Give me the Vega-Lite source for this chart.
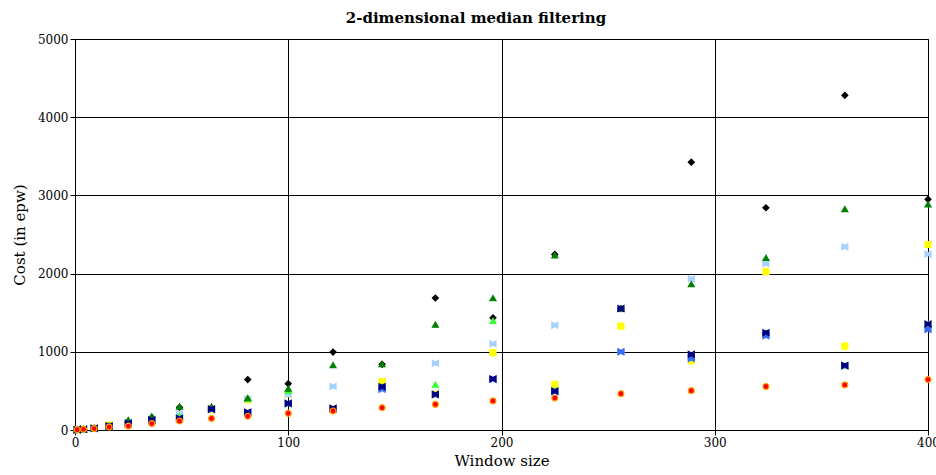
{
  "$schema": "https://vega.github.io/schema/vega-lite/v6.json",
  "width": 853,
  "height": 391,
  "autosize": {"type": "none"},
  "padding": {"left": 75, "top": 39, "right": 8, "bottom": 45},
  "background": "white",
  "title": {
    "text": "2-dimensional median filtering",
    "font": "DejaVu Serif",
    "fontSize": 15,
    "fontWeight": "bold",
    "color": "black",
    "anchor": "middle",
    "frame": "bounds",
    "offset": 7
  },
  "config": {
    "view": {"stroke": "black", "strokeWidth": 1},
    "axis": {
      "labelFont": "DejaVu Serif",
      "titleFont": "DejaVu Serif",
      "labelFontSize": 12,
      "titleFontSize": 15,
      "titleFontWeight": "normal",
      "labelColor": "black",
      "titleColor": "black",
      "gridColor": "black",
      "gridOpacity": 1,
      "gridWidth": 1,
      "domainColor": "black",
      "tickColor": "black",
      "tickSize": 5,
      "labelOverlap": false,
      "labelBound": false,
      "labelFlush": false
    }
  },
  "data": {
    "values": [
      {"s": "K", "x": 1, "y": 5}, {"s": "K", "x": 4, "y": 10}, {"s": "K", "x": 9, "y": 25}, {"s": "K", "x": 16, "y": 50}, {"s": "K", "x": 25, "y": 110}, {"s": "K", "x": 36, "y": 160}, {"s": "K", "x": 49, "y": 290}, {"s": "K", "x": 64, "y": 280}, {"s": "K", "x": 81, "y": 645}, {"s": "K", "x": 100, "y": 593}, {"s": "K", "x": 121, "y": 996}, {"s": "K", "x": 144, "y": 840}, {"s": "K", "x": 169, "y": 1688}, {"s": "K", "x": 196, "y": 1434}, {"s": "K", "x": 225, "y": 2245}, {"s": "K", "x": 256, "y": 1553}, {"s": "K", "x": 289, "y": 3425}, {"s": "K", "x": 324, "y": 2842}, {"s": "K", "x": 361, "y": 4280}, {"s": "K", "x": 400, "y": 2950},
      {"s": "Y", "x": 1, "y": 4}, {"s": "Y", "x": 4, "y": 9}, {"s": "Y", "x": 9, "y": 20}, {"s": "Y", "x": 16, "y": 60}, {"s": "Y", "x": 25, "y": 70}, {"s": "Y", "x": 36, "y": 110}, {"s": "Y", "x": 49, "y": 150}, {"s": "Y", "x": 64, "y": 260}, {"s": "Y", "x": 81, "y": 385}, {"s": "Y", "x": 100, "y": 465}, {"s": "Y", "x": 121, "y": 270}, {"s": "Y", "x": 144, "y": 618}, {"s": "Y", "x": 169, "y": 455}, {"s": "Y", "x": 196, "y": 989}, {"s": "Y", "x": 225, "y": 583}, {"s": "Y", "x": 256, "y": 1328}, {"s": "Y", "x": 289, "y": 887}, {"s": "Y", "x": 324, "y": 2026}, {"s": "Y", "x": 361, "y": 1073}, {"s": "Y", "x": 400, "y": 2372},
      {"s": "L", "x": 1, "y": 4}, {"s": "L", "x": 4, "y": 9}, {"s": "L", "x": 9, "y": 20}, {"s": "L", "x": 16, "y": 45}, {"s": "L", "x": 25, "y": 90}, {"s": "L", "x": 36, "y": 130}, {"s": "L", "x": 49, "y": 205}, {"s": "L", "x": 64, "y": 265}, {"s": "L", "x": 81, "y": 392}, {"s": "L", "x": 100, "y": 458}, {"s": "L", "x": 121, "y": 557}, {"s": "L", "x": 144, "y": 515}, {"s": "L", "x": 169, "y": 853}, {"s": "L", "x": 196, "y": 1102}, {"s": "L", "x": 225, "y": 1340}, {"s": "L", "x": 256, "y": 1000}, {"s": "L", "x": 289, "y": 1934}, {"s": "L", "x": 324, "y": 2128}, {"s": "L", "x": 361, "y": 2342}, {"s": "L", "x": 400, "y": 2248},
      {"s": "H", "x": 1, "y": 4}, {"s": "H", "x": 4, "y": 9}, {"s": "H", "x": 9, "y": 20}, {"s": "H", "x": 16, "y": 45}, {"s": "H", "x": 25, "y": 100}, {"s": "H", "x": 36, "y": 140}, {"s": "H", "x": 49, "y": 180}, {"s": "H", "x": 64, "y": 270}, {"s": "H", "x": 81, "y": 400}, {"s": "H", "x": 100, "y": 500}, {"s": "H", "x": 121, "y": 265}, {"s": "H", "x": 144, "y": 554}, {"s": "H", "x": 169, "y": 580}, {"s": "H", "x": 196, "y": 1396}, {"s": "H", "x": 225, "y": 500}, {"s": "H", "x": 256, "y": 1553}, {"s": "H", "x": 289, "y": 935}, {"s": "H", "x": 324, "y": 1244}, {"s": "H", "x": 361, "y": 825}, {"s": "H", "x": 400, "y": 1355},
      {"s": "G", "x": 1, "y": 5}, {"s": "G", "x": 4, "y": 10}, {"s": "G", "x": 9, "y": 22}, {"s": "G", "x": 16, "y": 55}, {"s": "G", "x": 25, "y": 128}, {"s": "G", "x": 36, "y": 175}, {"s": "G", "x": 49, "y": 300}, {"s": "G", "x": 64, "y": 300}, {"s": "G", "x": 81, "y": 410}, {"s": "G", "x": 100, "y": 530}, {"s": "G", "x": 121, "y": 830}, {"s": "G", "x": 144, "y": 842}, {"s": "G", "x": 169, "y": 1348}, {"s": "G", "x": 196, "y": 1686}, {"s": "G", "x": 225, "y": 2235}, {"s": "G", "x": 256, "y": 1553}, {"s": "G", "x": 289, "y": 1866}, {"s": "G", "x": 324, "y": 2201}, {"s": "G", "x": 361, "y": 2825}, {"s": "G", "x": 400, "y": 2885},
      {"s": "B", "x": 1, "y": 4}, {"s": "B", "x": 4, "y": 9}, {"s": "B", "x": 9, "y": 20}, {"s": "B", "x": 16, "y": 45}, {"s": "B", "x": 25, "y": 80}, {"s": "B", "x": 36, "y": 120}, {"s": "B", "x": 49, "y": 140}, {"s": "B", "x": 64, "y": 262}, {"s": "B", "x": 81, "y": 222}, {"s": "B", "x": 100, "y": 335}, {"s": "B", "x": 121, "y": 270}, {"s": "B", "x": 144, "y": 525}, {"s": "B", "x": 169, "y": 450}, {"s": "B", "x": 196, "y": 648}, {"s": "B", "x": 225, "y": 490}, {"s": "B", "x": 256, "y": 1000}, {"s": "B", "x": 289, "y": 913}, {"s": "B", "x": 324, "y": 1205}, {"s": "B", "x": 361, "y": 820}, {"s": "B", "x": 400, "y": 1286},
      {"s": "N", "x": 1, "y": 4}, {"s": "N", "x": 4, "y": 9}, {"s": "N", "x": 9, "y": 22}, {"s": "N", "x": 16, "y": 50}, {"s": "N", "x": 25, "y": 85}, {"s": "N", "x": 36, "y": 128}, {"s": "N", "x": 49, "y": 150}, {"s": "N", "x": 64, "y": 268}, {"s": "N", "x": 81, "y": 228}, {"s": "N", "x": 100, "y": 341}, {"s": "N", "x": 121, "y": 277}, {"s": "N", "x": 144, "y": 554}, {"s": "N", "x": 169, "y": 457}, {"s": "N", "x": 196, "y": 653}, {"s": "N", "x": 225, "y": 498}, {"s": "N", "x": 256, "y": 1553}, {"s": "N", "x": 289, "y": 968}, {"s": "N", "x": 324, "y": 1244}, {"s": "N", "x": 361, "y": 825}, {"s": "N", "x": 400, "y": 1355},
      {"s": "R", "x": 1, "y": 3}, {"s": "R", "x": 4, "y": 8}, {"s": "R", "x": 9, "y": 18}, {"s": "R", "x": 16, "y": 38}, {"s": "R", "x": 25, "y": 50}, {"s": "R", "x": 36, "y": 82}, {"s": "R", "x": 49, "y": 115}, {"s": "R", "x": 64, "y": 148}, {"s": "R", "x": 81, "y": 176}, {"s": "R", "x": 100, "y": 213}, {"s": "R", "x": 121, "y": 243}, {"s": "R", "x": 144, "y": 285}, {"s": "R", "x": 169, "y": 328}, {"s": "R", "x": 196, "y": 372}, {"s": "R", "x": 225, "y": 409}, {"s": "R", "x": 256, "y": 464}, {"s": "R", "x": 289, "y": 503}, {"s": "R", "x": 324, "y": 556}, {"s": "R", "x": 361, "y": 577}, {"s": "R", "x": 400, "y": 645}
    ]
  },
  "mark": {"type": "point", "filled": true, "size": 36, "strokeWidth": 1.2, "opacity": 1},
  "encoding": {
    "x": {
      "field": "x", "type": "quantitative",
      "scale": {"domain": [0, 400], "nice": false, "zero": false},
      "axis": {"values": [0, 100, 200, 300, 400], "format": "d", "title": "Window size", "titlePadding": 5, "labelPadding": 2}
    },
    "y": {
      "field": "y", "type": "quantitative",
      "scale": {"domain": [0, 5000], "nice": false},
      "axis": {"values": [0, 1000, 2000, 3000, 4000, 5000], "format": "d", "title": "Cost (in epw)", "titlePadding": 10, "labelPadding": 2}
    },
    "fill": {
      "field": "s", "type": "nominal", "legend": null,
      "scale": {"domain": ["K", "Y", "L", "H", "G", "B", "N", "R"],
                "range": ["#000000", "#ffff00", "#a6d2ff", "#33ff33", "#008000", "#3a6cf0", "#000080", "#ff0000"]}
    },
    "stroke": {
      "field": "s", "type": "nominal", "legend": null,
      "scale": {"domain": ["K", "Y", "L", "H", "G", "B", "N", "R"],
                "range": ["#000000", "#ffff00", "#a6d2ff", "#33ff33", "#008000", "#3a6cf0", "#000080", "#ffa500"]}
    },
    "shape": {
      "field": "s", "type": "nominal", "legend": null,
      "scale": {"domain": ["K", "Y", "L", "H", "G", "B", "N", "R"],
                "range": ["diamond", "square", "M-1,-1L0,-0.45L1,-1L1,1L0,0.45L-1,1Z", "triangle-up", "triangle-up", "M-1,-1L0,-0.45L1,-1L1,1L0,0.45L-1,1Z", "M-1,-1L0,-0.45L1,-1L1,1L0,0.45L-1,1Z", "circle"]}
    }
  }
}
